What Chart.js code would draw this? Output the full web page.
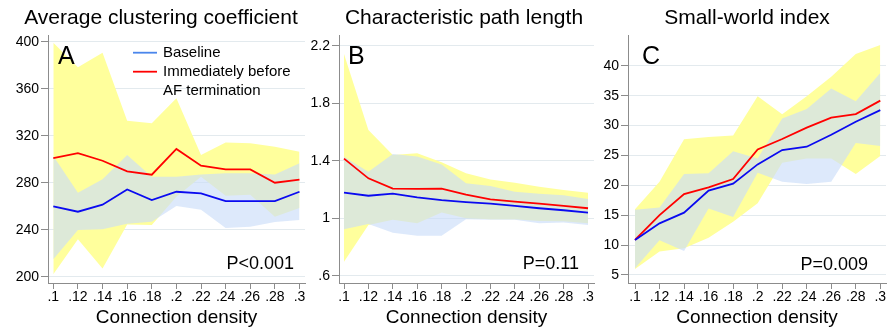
<!DOCTYPE html>
<html>
<head>
<meta charset="utf-8">
<script src="https://cdn.jsdelivr.net/npm/chart.js@4.4.1/dist/chart.umd.min.js"></script>
<style>
  html, body { margin: 0; padding: 0; background: #ffffff; width: 888px; height: 331px; overflow: hidden; }
  .panel { position: absolute; top: 0; height: 331px; }
  canvas { display: block; }
</style>
</head>
<body>
<div class="panel" style="left:0px;width:308px"><canvas id="cA" width="308" height="331"></canvas></div>
<div class="panel" style="left:308px;width:292px"><canvas id="cB" width="292" height="331"></canvas></div>
<div class="panel" style="left:600px;width:288px"><canvas id="cC" width="288" height="331"></canvas></div>
<script>
// ---------- data ----------
const density = [0.10, 0.12, 0.14, 0.16, 0.18, 0.20, 0.22, 0.24, 0.26, 0.28, 0.30];
const densityLabels = ['.1', '.12', '.14', '.16', '.18', '.2', '.22', '.24', '.26', '.28', '.3'];

// A: Average clustering coefficient
const clusterTicks = [200, 240, 280, 320, 360, 400];
const clusterTickLabels = ['200', '240', '280', '320', '360', '400'];
const clusterBaseline = [259.9, 255.3, 261.3, 274.3, 265.2, 272.3, 270.9, 264.4, 264.4, 264.4, 272.3];
const clusterBefore = [301.0, 305.2, 298.7, 289.6, 286.8, 308.7, 294.5, 291.3, 291.3, 280.0, 282.6];
const clusterBaselineLo = [214.8, 239.7, 240.3, 245.0, 246.8, 260.2, 257.0, 241.5, 242.5, 246.5, 248.3];
const clusterBaselineHi = [302.7, 271.5, 282.9, 303.6, 285.0, 285.0, 287.0, 288.0, 288.0, 287.0, 296.5];
const clusterBeforeLo = [202.0, 231.8, 207.0, 244.5, 244.0, 268.0, 285.0, 269.0, 269.7, 251.0, 258.5];
const clusterBeforeHi = [399.0, 378.2, 390.6, 332.8, 330.5, 351.8, 303.5, 314.3, 313.5, 310.6, 306.4];

// B: Characteristic path length
const pathTicks = [0.6, 1.0, 1.4, 1.8, 2.2];
const pathTickLabels = ['.6', '1', '1.4', '1.8', '2.2'];
const pathBaseline = [1.178, 1.157, 1.171, 1.146, 1.127, 1.113, 1.102, 1.086, 1.070, 1.056, 1.039];
const pathBefore = [1.415, 1.278, 1.206, 1.204, 1.206, 1.164, 1.132, 1.116, 1.102, 1.086, 1.070];
const pathBaselineLo = [0.923, 0.960, 0.900, 0.879, 0.879, 0.993, 0.990, 0.990, 0.965, 0.970, 0.953];
const pathBaselineHi = [1.429, 1.324, 1.447, 1.430, 1.375, 1.243, 1.225, 1.185, 1.170, 1.160, 1.135];
const pathBeforeLo = [0.698, 0.953, 0.990, 0.965, 1.040, 1.000, 0.993, 0.993, 0.981, 0.980, 0.965];
const pathBeforeHi = [2.143, 1.614, 1.440, 1.452, 1.390, 1.313, 1.270, 1.248, 1.220, 1.197, 1.178];

// C: Small-world index
const swTicks = [5, 10, 15, 20, 25, 30, 35, 40];
const swTickLabels = ['5', '10', '15', '20', '25', '30', '35', '40'];
const swBaseline = [10.84, 13.63, 15.42, 19.10, 20.27, 23.50, 25.90, 26.47, 28.48, 30.65, 32.60];
const swBefore = [10.84, 15.00, 18.54, 19.66, 21.06, 26.00, 27.76, 29.66, 31.33, 31.94, 34.18];
const swBaselineLo = [6.1, 10.8, 9.0, 16.1, 14.7, 22.1, 20.6, 20.2, 20.6, 27.1, 26.6];
const swBaselineHi = [15.9, 16.3, 21.9, 22.0, 25.7, 24.5, 31.2, 32.8, 36.2, 34.1, 38.8];
const swBeforeLo = [6.0, 8.9, 9.45, 11.2, 13.9, 17.0, 23.8, 24.5, 24.5, 21.9, 24.9];
const swBeforeHi = [16.0, 20.6, 27.7, 28.1, 28.35, 34.9, 31.9, 34.9, 38.2, 42.0, 43.5];

// ---------- styling ----------
const FONT = "'Liberation Sans', Arial, Helvetica, sans-serif";
const YELLOW = 'rgb(255,255,156)';
const BLUEFILL = 'rgba(203,221,249,0.65)';
const RED = '#ff0000';
const BLUE = '#0a0af0';
const AXIS = '#8c8c8c';
const GRID = '#e3eaee';

function pts(arr) { return arr.map((v, i) => ({ x: density[i], y: v })); }

function datasets(base, before, baseLo, baseHi, befLo, befHi) {
  const band = { borderColor: 'rgba(0,0,0,0)', borderWidth: 0, pointRadius: 0 };
  return [
    Object.assign({ label: 'beforeLo', data: pts(befLo), fill: false, order: 6 }, band),
    Object.assign({ label: 'beforeHi', data: pts(befHi), fill: '-1', backgroundColor: YELLOW, order: 5 }, band),
    Object.assign({ label: 'baseLo', data: pts(baseLo), fill: false, order: 4 }, band),
    Object.assign({ label: 'baseHi', data: pts(baseHi), fill: '-1', backgroundColor: BLUEFILL, order: 3 }, band),
    { label: 'Immediately before AF termination', data: pts(before), borderColor: RED, borderWidth: 1.8, pointRadius: 0, fill: false, order: 2 },
    { label: 'Baseline', data: pts(base), borderColor: BLUE, borderWidth: 1.8, pointRadius: 0, fill: false, order: 1 }
  ];
}

function xScale(min, max) {
  return {
    type: 'linear', min: min, max: max,
    afterBuildTicks: s => { s.ticks = density.map(v => ({ value: v })); },
    afterFit: s => { s.height = 48; },
    ticks: { callback: (v, i) => densityLabels[i], autoSkip: false, maxRotation: 0, minRotation: 0,
             font: { size: 14, family: FONT }, color: '#000', padding: 0 },
    grid: { drawOnChartArea: false, drawTicks: true, tickLength: 6, tickColor: AXIS, color: AXIS, lineWidth: 1 },
    border: { display: true, color: AXIS, width: 1 },
    title: { display: true, text: 'Connection density', font: { size: 19, family: FONT }, color: '#000', padding: { top: 0, bottom: 2 } }
  };
}

function yScale(min, max, vals, labels, width) {
  return {
    type: 'linear', min: min, max: max,
    afterBuildTicks: s => { s.ticks = vals.map(v => ({ value: v })); },
    afterFit: s => { s.width = width; },
    ticks: { callback: (v, i) => labels[i], autoSkip: false, font: { size: 14, family: FONT }, color: '#000', padding: 2 },
    grid: { color: GRID, lineWidth: 1, drawTicks: true, tickLength: 7, tickColor: AXIS },
    border: { display: true, color: AXIS, width: 1 }
  };
}

function decor(o) {
  return {
    id: 'decor',
    afterDraw(chart) {
      const c = chart.ctx;
      c.save();
      c.fillStyle = '#000';
      // title
      c.font = '21px ' + FONT;
      c.textAlign = 'center'; c.textBaseline = 'middle';
      c.fillText(o.title, o.titleX, 18);
      // panel letter
      c.font = '25px ' + FONT;
      c.textAlign = 'left';
      c.fillText(o.letter, o.letterX, 57);
      // p value
      c.font = '18px ' + FONT;
      c.textAlign = 'right';
      c.fillText(o.p, o.pX, o.pY);
      // legend
      if (o.legend) {
        c.lineWidth = 1.8;
        c.strokeStyle = '#4a86ec';
        c.beginPath(); c.moveTo(133, 52.7); c.lineTo(157, 52.7); c.stroke();
        c.strokeStyle = RED;
        c.beginPath(); c.moveTo(133, 71.7); c.lineTo(157, 71.7); c.stroke();
        c.font = '15px ' + FONT;
        c.textAlign = 'left';
        c.fillText('Baseline', 163, 53);
        c.fillText('Immediately before', 163, 72);
        c.fillText('AF termination', 163, 90.5);
      }
      c.restore();
    }
  };
}

function makeChart(id, ds, xs, ys, pad, deco) {
  return new Chart(document.getElementById(id), {
    type: 'line',
    data: { datasets: ds },
    options: {
      responsive: false, animation: false, devicePixelRatio: 1,
      layout: { padding: pad },
      plugins: { legend: { display: false }, tooltip: { enabled: false }, title: { display: false } },
      elements: { line: { tension: 0 } },
      scales: { x: xs, y: ys }
    },
    plugins: [decor(deco)]
  });
}

makeChart('cA',
  datasets(clusterBaseline, clusterBefore, clusterBaselineLo, clusterBaselineHi, clusterBeforeLo, clusterBeforeHi),
  xScale(0.09569, 0.30447),
  yScale(194.64, 405.7, clusterTicks, clusterTickLabels, 48),
  { top: 35, right: 3, left: 0, bottom: 0 },
  { title: 'Average clustering coefficient', titleX: 161, letter: 'A', letterX: 58, p: 'P<0.001', pX: 294, pY: 264, legend: true });

makeChart('cB',
  datasets(pathBaseline, pathBefore, pathBaselineLo, pathBaselineHi, pathBeforeLo, pathBeforeHi),
  xScale(0.0959, 0.3049),
  yScale(0.5499, 2.2751, pathTicks, pathTickLabels, 31),
  { top: 35, right: 6, left: 0, bottom: 0 },
  { title: 'Characteristic path length', titleX: 156, letter: 'B', letterX: 40, p: 'P=0.11', pX: 271, pY: 264, legend: false });

makeChart('cC',
  datasets(swBaseline, swBefore, swBaselineLo, swBaselineHi, swBeforeLo, swBeforeHi),
  xScale(0.09429, 0.30465),
  yScale(3.635, 45.18, swTicks, swTickLabels, 28),
  { top: 35, right: 2, left: 0, bottom: 0 },
  { title: 'Small-world index', titleX: 147, letter: 'C', letterX: 42, p: 'P=0.009', pX: 268, pY: 265, legend: false });
</script>
</body>
</html>
